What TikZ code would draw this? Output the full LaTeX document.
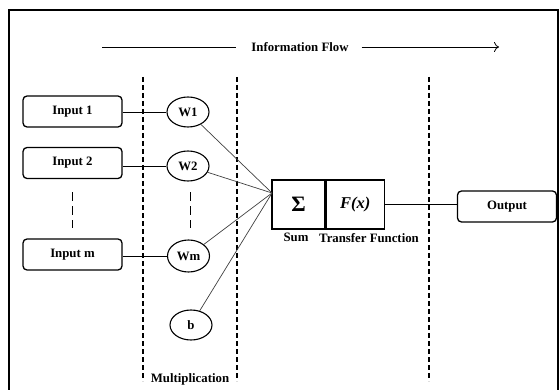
\documentclass[tikz,border=0pt]{standalone}
\usepackage{fontspec}
\setmainfont{Liberation Serif}
\usetikzlibrary{shapes.geometric,arrows.meta,calc}
\begin{document}
\begin{tikzpicture}[x=1pt,y=-1pt,
  every node/.style={font=\fontsize{12.8}{15}\selectfont\bfseries},
  inbox/.style={draw,rounded corners=4pt,line width=1.3pt,minimum width=99pt,minimum height=31pt,inner sep=0pt},
  wnode/.style={draw,ellipse,line width=1.1pt,minimum width=42pt,minimum height=30pt,inner sep=0pt},
  sepline/.style={line width=1.4pt,dash pattern=on 5pt off 3pt},
  gapline/.style={line width=0.7pt,dash pattern=on 9pt off 5pt},
  link/.style={line width=0.7pt,black!75},
  wire/.style={line width=0.8pt},
  cell/.style={draw,line width=1.2pt,minimum height=49pt,inner sep=0pt},
  lbl/.style={inner sep=0pt}
]
\useasboundingbox (0,0) rectangle (559,390);
\clip (0,0) rectangle (559,390);
% outer frame
\draw[line width=1.8pt] (9,400) -- (9,10) -- (558,10) -- (558,400);

% information flow
\node[lbl] (flow) at (300,47) {Information Flow};
\coordinate (fa) at (102,47);
\coordinate (fb) at (499,47);
\draw[wire] (fa) -- ([xshift=-15pt]flow.west);
\draw[wire,-{To[length=5pt,width=10pt]}] ([xshift=13pt]flow.east) -- (fb);

% separators
\coordinate (s1t) at (143,77); \coordinate (s1b) at (143,381);
\coordinate (s2t) at (237,77); \coordinate (s2b) at (237,381);
\coordinate (s3t) at (429,77); \coordinate (s3b) at (429,381);
\draw[sepline] (s1t) -- (s1b);
\draw[sepline] (s2t) -- (s2b);
\draw[sepline] (s3t) -- (s3b);

% inputs
\node[inbox] (in1) at (72.5,111.5) {Input 1};
\node[inbox] (in2) at (72.5,163) {Input 2};
\node[inbox] (inm) at (72.5,254.5) {Input m};

% weights
\node[wnode] (w1) at (188,112) {W1};
\node[wnode] (w2) at (188,166) {W2};
\node[wnode,minimum height=32pt] (wm) at (188.5,256) {Wm};
\node[wnode] (b) at (191,325) {b};

% gaps
\coordinate (g1t) at (72,192); \coordinate (g1b) at (72,228);
\coordinate (g2t) at (190,192); \coordinate (g2b) at (190,228);
\draw[gapline] (g1t) -- (g1b);
\draw[gapline] (g2t) -- (g2b);

% input wires
\draw[wire] (in1.east |- w1) -- (w1);
\draw[wire] (in2.east |- w2) -- (w2);
\draw[wire] (inm.east |- wm) -- (wm);

% sum and transfer
\node[cell,minimum width=53pt] (sig) at (298.5,204.5) {\fontsize{22}{24}\selectfont Σ};
\node[cell,minimum width=58pt,anchor=west] (fx) at (sig.east) {\fontsize{16.5}{18}\selectfont\itshape F(x)};
\coordinate (conv) at (272,193);
\draw[link] (w1) -- (conv);
\draw[link] (w2) -- (conv);
\draw[link] (wm) -- (conv);
\draw[link] (b) -- (conv);

\node[lbl] (sumlbl) at (296,237) {Sum};
\node[lbl] (tflbl) at (369,238) {Transfer Function};
\node[lbl] (mult) at (190,379) {Multiplication};

% output
\node[inbox,minimum width=99pt] (out) at (507,206.5) {Output};
\draw[wire] (fx.east) -- (fx.east -| out.west);
\end{tikzpicture}
\end{document}
